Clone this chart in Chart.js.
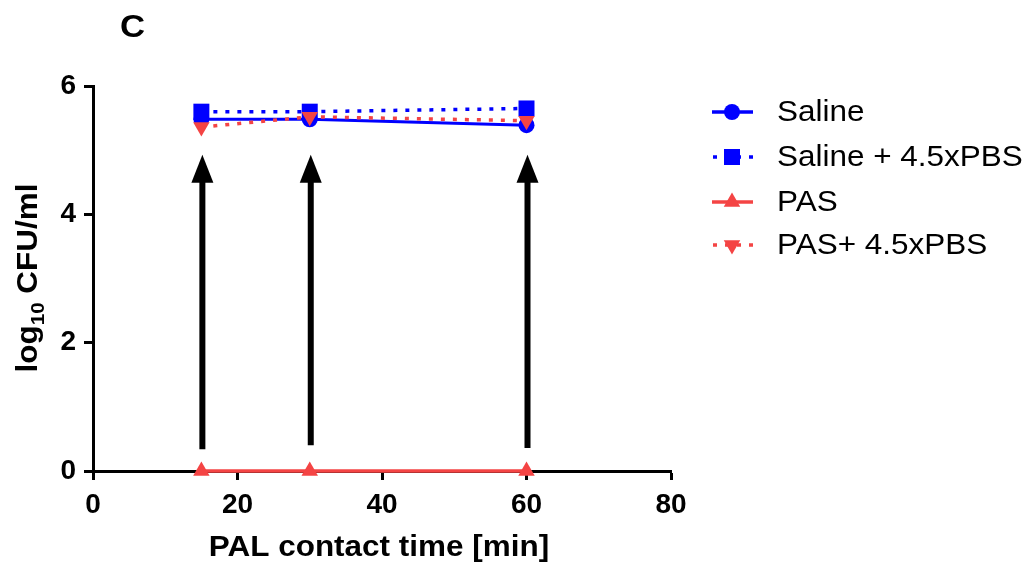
<!DOCTYPE html>
<html>
<head>
<meta charset="utf-8">
<script src="https://cdn.jsdelivr.net/npm/chart.js@4"></script>
<style>
	html, body { margin: 0; padding: 0; background: #fff; }
	#wrap { width: 1030px; height: 565px; }
</style>
</head>
<body>
<div id="wrap"><canvas id="grafico" width="1030" height="565"></canvas></div>
<script>
// contact times (min)
const times = [15, 30, 60];

// log10 CFU/ml
const saline = [5.48, 5.48, 5.39];
const salinePBS = [5.60, 5.60, 5.65];
const pas = [0, 0, 0];
const pasPBS = [5.36, 5.52, 5.46];

// arrows (below detection limit markers)
const arrowX = [15, 30, 60];
const arrowFrom = [0.34, 0.40, 0.36];
const arrowTo = [4.93, 4.93, 4.93];

const xTicks = [0, 20, 40, 60, 80];
const yTicks = [0, 2, 4, 6];

const blue = '#0000FF';
const red = '#F44444';

const legendItems = [
	{ label: 'Saline', color: blue, dash: [], style: 'circle', radius: 8, rot: 0 },
	{ label: 'Saline + 4.5xPBS', color: blue, dash: [4, 8], style: 'rect', radius: 11.3, rot: 0 },
	{ label: 'PAS', color: red, dash: [], style: 'triangle', radius: 9.5, rot: 0 },
	{ label: 'PAS+ 4.5xPBS', color: red, dash: [4, 8], style: 'triangle', radius: 9.5, rot: 180 }
];

const FONT = 'Arial, "Liberation Sans"';
const SX = 1.085; // text in the original is a bit wider than Arial

function pts(vals) {
	return times.map((t, i) => ({ x: t, y: vals[i] }));
}

// draw text stretched along its own direction
function wideText(ctx, txt, x, y, font, align) {
	ctx.save();
	ctx.font = font;
	const w = ctx.measureText(txt).width * SX;
	let x0 = x;
	if (align === 'center') x0 = x - w / 2;
	ctx.translate(x0, y);
	ctx.scale(SX, 1);
	ctx.textAlign = 'left';
	ctx.fillText(txt, 0, 0);
	ctx.restore();
	return w;
}

const extras = {
	id: 'extras',
	afterDatasetsDraw(chart) {
		const ctx = chart.ctx;
		const xs = chart.scales.x, ys = chart.scales.y;
		ctx.save();
		ctx.fillStyle = '#000';
		ctx.strokeStyle = '#000';
		arrowX.forEach((v, i) => {
			const x = xs.getPixelForValue(v) + 1;
			const y0 = ys.getPixelForValue(arrowFrom[i]);
			const y1 = ys.getPixelForValue(arrowTo[i]);
			ctx.lineWidth = 6;
			ctx.beginPath();
			ctx.moveTo(x, y0);
			ctx.lineTo(x, y1 + 20);
			ctx.stroke();
			ctx.beginPath();
			ctx.moveTo(x, y1);
			ctx.lineTo(x - 11, y1 + 28);
			ctx.lineTo(x + 11, y1 + 28);
			ctx.closePath();
			ctx.fill();
		});
		ctx.restore();
	},
	afterDraw(chart) {
		const ctx = chart.ctx;
		ctx.save();
		ctx.fillStyle = '#000';
		ctx.textBaseline = 'alphabetic';

		// panel letter
		wideText(ctx, 'C', 120, 37, 'bold 32px ' + FONT, 'left');

		// x title
		wideText(ctx, 'PAL contact time [min]', 379, 556, 'bold 29px ' + FONT, 'center');

		// y title with subscript
		ctx.save();
		ctx.translate(37, 278);
		ctx.rotate(-Math.PI / 2);
		const big = 'bold 29px ' + FONT;
		const small = 'bold 19px ' + FONT;
		ctx.font = big;
		const w1 = ctx.measureText('log').width * SX;
		const w3 = ctx.measureText(' CFU/ml').width * SX;
		ctx.font = small;
		const w2 = ctx.measureText('10').width * SX;
		let x = -(w1 + w2 + w3) / 2;
		wideText(ctx, 'log', x, 0, big, 'left');
		x += w1;
		wideText(ctx, '10', x, 7, small, 'left');
		x += w2;
		wideText(ctx, ' CFU/ml', x, 0, big, 'left');
		ctx.restore();

		// legend
		const rows = [112, 157, 202, 245];
		legendItems.forEach((it, i) => {
			const y = rows[i];
			ctx.save();
			ctx.strokeStyle = it.color;
			ctx.lineWidth = 3.5;
			ctx.setLineDash(it.dash);
			ctx.lineDashOffset = it.dash.length ? -1 : 0;
			ctx.beginPath();
			ctx.moveTo(712, y);
			ctx.lineTo(753, y);
			ctx.stroke();
			ctx.restore();
			ctx.fillStyle = it.color;
			Chart.helpers.drawPoint(ctx, { pointStyle: it.style, radius: it.radius, rotation: it.rot, borderWidth: 0 }, 732, y);
			ctx.fillStyle = '#000';
			ctx.textBaseline = 'middle';
			wideText(ctx, it.label, 777, y + 1, '29px ' + FONT, 'left');
		});
		ctx.restore();
	}
};

const axisCommon = {
	grid: { display: true, drawOnChartArea: false, drawTicks: true, tickLength: 9, tickWidth: 3, tickColor: '#000', color: '#000' },
	border: { display: true, color: '#000', width: 3 },
	ticks: { color: '#000', font: { family: FONT, size: 28, weight: 'bold' } }
};

const ctx = document.getElementById('grafico').getContext('2d');
const chart = new Chart(ctx, {
	type: 'line',
	data: {
		datasets: [
			{ label: 'PAS+ 4.5xPBS', data: pts(pasPBS), borderColor: red, backgroundColor: red, borderWidth: 3.5, borderDash: [4, 8], pointStyle: 'triangle', pointRotation: 180, pointRadius: 9.5, pointBorderWidth: 0, order: 0, clip: false },
			{ label: 'PAS', data: pts(pas), borderColor: red, backgroundColor: red, borderWidth: 3.5, pointStyle: 'triangle', pointRadius: 9.5, pointBorderWidth: 0, order: 1, clip: false },
			{ label: 'Saline + 4.5xPBS', data: pts(salinePBS), borderColor: blue, backgroundColor: blue, borderWidth: 3.5, borderDash: [4, 8], pointStyle: 'rect', pointRadius: 11.3, pointBorderWidth: 0, order: 2, clip: false },
			{ label: 'Saline', data: pts(saline), borderColor: blue, backgroundColor: blue, borderWidth: 3, pointStyle: 'circle', pointRadius: 8, pointBorderWidth: 0, order: 3, clip: false }
		]
	},
	options: {
		responsive: false,
		animation: false,
		layout: { padding: { left: 0, top: 86, right: 359, bottom: 0 } },
		plugins: { legend: { display: false }, tooltip: { enabled: false } },
		scales: {
			x: {
				type: 'linear', min: 0, max: 80,
				...axisCommon,
				ticks: { ...axisCommon.ticks, padding: 8, stepSize: 20, autoSkip: false, maxRotation: 0 },
				afterBuildTicks: s => { s.ticks = xTicks.map(v => ({ value: v })); },
				afterFit: s => { s.height = 94; }
			},
			y: {
				type: 'linear', min: 0, max: 6,
				...axisCommon,
				ticks: { ...axisCommon.ticks, padding: 8, stepSize: 2 },
				afterBuildTicks: s => { s.ticks = yTicks.map(v => ({ value: v })); },
				afterFit: s => { s.width = 93; }
			}
		}
	},
	plugins: [extras]
});
</script>
</body>
</html>
